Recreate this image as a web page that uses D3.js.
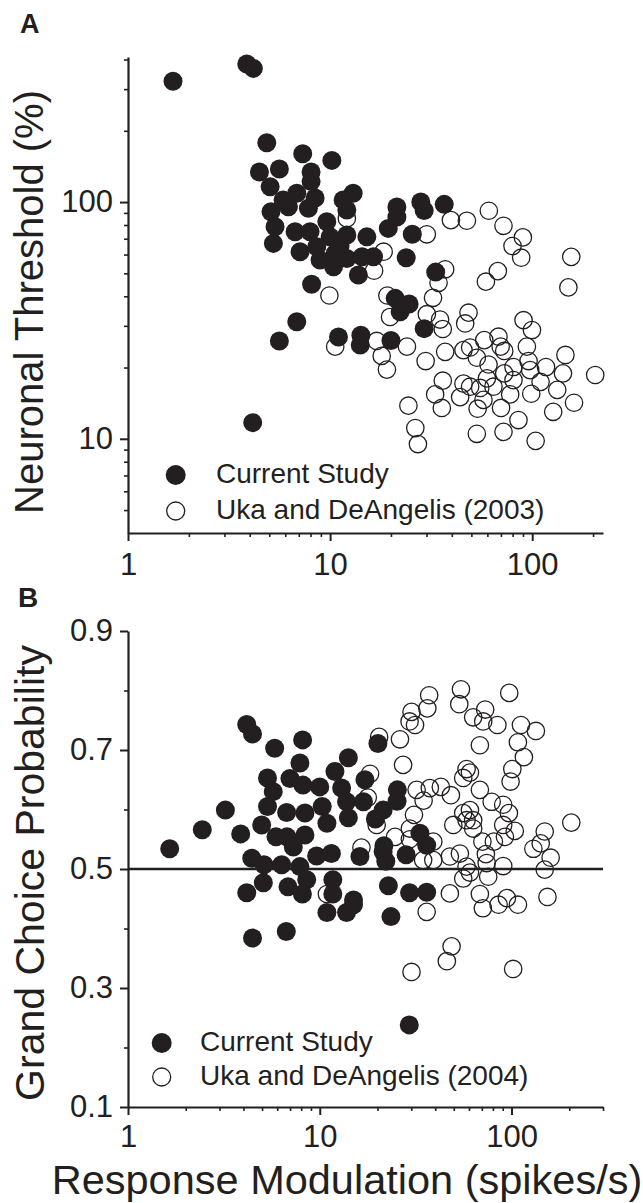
<!DOCTYPE html>
<html>
<head>
<meta charset="utf-8">
<script src="https://cdn.jsdelivr.net/npm/d3@7"></script>
<style>
  html, body { margin: 0; padding: 0; background: #fff; }
  svg { display: block; }
  text { font-family: "Liberation Sans", Arial, Helvetica, sans-serif; fill: #231f20; }
</style>
</head>
<body>
<svg id="chart" width="643" height="1203"></svg>
<script>
// ---------------- DATA ----------------
// Panel A: Neuronal threshold vs response modulation
const aCurX = [1.67,3.87,4.17,4.86,7.32,10.2,4.47,5.61,8.05,8.05,5.05,6.84,8.43,13.0,11.6,5.10,6.22,7.81,12.1,21.4,21.4,28.1,29.2,36.7,5.34,9.63,6.71,7.96,10.0,12.1,15.2,19.4,25.5,5.24,7.10,8.59,8.92,10.4,10.6,12.1,14.4,16.4,13.8,23.8,8.10,6.84,5.61,11.0,14.2,14.1,20.0,21.0,24.6,22.2,29.2,33.3,4.14,5.85,11.2];
const aCurY = [324,383,367,178,160,150,134,138,134,122,116,109,104,109,102,91,95.5,94.1,92.5,95.3,86.4,100,92.1,97.8,78.6,82.6,74.9,74.9,71.3,72.6,71.3,77.4,73.1,66.9,61.7,64.7,56.9,53.3,60.7,57.8,58.7,58.7,49.2,58.2,45.0,31.2,25.9,26.9,27.4,24.9,26.0,39.2,37.1,34.4,29.2,50.6,11.7,102,65.2];
const aUkaX = [39.6,47.5,61.0,72.1,89.9,79.9,88.2,156,151,67.6,59.0,30.1,18.4,16.5,37.1,34.4,9.92,19.2,32.3,19.8,30.1,35.0,48.4,46.6,36.1,90.6,99.7,10.6,17.0,24.0,18.0,19.1,29.7,37.1,49.3,57.9,69.8,72.7,53.2,60.8,72.7,80.8,94.1,95.9,117,146,142,205,110,133,161,127,85.5,98.9,77.8,64.3,55.3,53.7,70.1,45.7,36.1,33.1,35.7,24.4,26.4,27.2,53.2,72.1,104,59.7,49.3,80.8,97.7,68.1,45.7,57.4,44.0,12.1];
const aUkaY = [83.9,83.4,91.9,79.4,70.9,65.2,58.2,58.7,43.6,51.1,46.1,73.1,61.7,51.3,52.0,45.6,40.3,40.3,39.4,32.7,33.6,31.9,34.1,30.7,29.1,31.7,28.8,24.5,25.9,24.5,22.4,19.6,21.3,23.3,24.3,26.1,24.5,23.5,22.0,20.6,18.9,17.7,24.5,21.3,20.1,22.6,18.9,18.6,17.4,16.1,14.2,13.0,12.0,15.5,15.4,16.6,16.4,13.4,13.5,17.1,17.6,15.4,13.5,13.8,11.1,9.5,10.5,10.7,9.8,18.0,16.6,20.1,19.5,27.0,23.7,14.6,15.0,85.3];

// Panel B: Grand choice probability vs response modulation
const bCurX = [1.65,2.44,3.22,3.87,4.16,4.46,5.82,8.14,7.88,5.34,6.99,8.17,10.0,5.72,5.34,6.72,8.37,10.3,4.98,5.91,6.75,8.37,7.28,4.42,5.12,6.33,4.16,5.08,7.88,8.55,6.83,8.12,9.63,11.5,16.2,21.4,22.1,11.7,11.7,10.9,13.8,15.0,22.8,23.5,4.46,6.69,14.1,12.0,17.2,20.1,13.0,13.8,16.9,21.4,25.4,25.3,19.5,14.1,10.9,33.3,36.1,21.6,28.2,29.4,36.1,29.3,15.0];
const bCurY = [0.534,0.566,0.599,0.559,0.743,0.727,0.703,0.717,0.678,0.653,0.652,0.641,0.638,0.630,0.605,0.595,0.594,0.605,0.574,0.554,0.554,0.557,0.537,0.518,0.507,0.507,0.460,0.477,0.504,0.482,0.470,0.458,0.522,0.526,0.521,0.529,0.513,0.482,0.458,0.427,0.427,0.440,0.472,0.420,0.384,0.395,0.687,0.664,0.650,0.711,0.636,0.613,0.613,0.599,0.633,0.614,0.584,0.586,0.577,0.560,0.540,0.539,0.524,0.460,0.461,0.238,0.448];
const bUkaX = [37.2,36.4,30.1,29.4,31.4,26.2,20.4,27.2,54.5,53.4,97.3,63.1,72.9,71.2,84.4,112,134,108,116,68.4,101,98.9,58.3,60.7,56.0,32.0,37.5,42.8,48.3,34.8,68.4,78.8,90.5,96.9,31.0,49.7,56.0,60.7,58.3,63.1,63.1,90.5,104,92.4,80.9,70.5,73.5,205,149,142,130,160,149,29.5,39.1,34.6,39.1,47.7,53.8,58.3,60.7,56.0,75.6,90.5,74.2,47.7,68.4,70.9,85.6,94.6,108,154,36.1,48.7,46.0,30.1,102,18.3,17.8,19.8,16.5,24.7,29.5,10.9];
const bUkaY = [0.792,0.770,0.764,0.748,0.742,0.718,0.722,0.675,0.802,0.777,0.796,0.755,0.768,0.748,0.742,0.742,0.732,0.713,0.688,0.708,0.668,0.647,0.668,0.662,0.653,0.633,0.636,0.638,0.624,0.615,0.633,0.613,0.608,0.594,0.591,0.574,0.594,0.599,0.582,0.582,0.568,0.574,0.564,0.554,0.546,0.546,0.525,0.578,0.563,0.543,0.534,0.519,0.499,0.568,0.546,0.515,0.515,0.521,0.526,0.504,0.494,0.484,0.487,0.505,0.510,0.459,0.458,0.434,0.440,0.451,0.440,0.453,0.428,0.370,0.345,0.327,0.332,0.660,0.620,0.574,0.536,0.554,0.550,0.458];

// Ticks
const xMajor = [1, 10, 100];
const xMinorA = [2,3,4,5,6,7,8,9,20,30,40,50,60,70,80,90,200];
const xMinorB = [2,3,4,5,6,7,8,9,20,30,40,50,60,70,80,90,200,300];
const yMajorA = [10, 100];
const yMinorA = [5,6,7,8,9,20,30,40,50,60,70,80,90,200,300,400];
const yMajorB = [0.1, 0.3, 0.5, 0.7, 0.9];
const yMinorB = [0.2, 0.4, 0.6, 0.8];
const refLineB = 0.5;

const legendA = ["Current Study", "Uka and DeAngelis (2003)"];
const legendB = ["Current Study", "Uka and DeAngelis (2004)"];

// ---------------- DRAW ----------------
const ink = "#231f20";
const svg = d3.select("#chart");
svg.append("rect").attr("width", 643).attr("height", 1203).attr("fill", "#fff");

const xA = d3.scaleLog().domain([1, 224]).range([128, 603]);
const yA = d3.scaleLog().domain([4, 410]).range([533, 57]);
const xB = d3.scaleLog().domain([1, 300]).range([128, 603]);
const yB = d3.scaleLinear().domain([0.1, 0.9]).range([1107, 631]);

function styleAxis(g) {
  g.select(".domain").attr("stroke", ink).attr("stroke-width", 2.2);
  g.selectAll(".tick line").attr("stroke", ink).attr("stroke-width", 2);
  g.selectAll(".tick text").attr("font-size", 31).attr("fill", ink)
    .attr("font-family", '"Liberation Sans", Arial, sans-serif');
}

function drawAxes(x, y, xMinor, yMajor, yMinor, yFmt, xPad) {
  const xAxisY = y.range()[0];
  const yAxisX = x.range()[0];
  const gx = svg.append("g").attr("transform", `translate(0,${xAxisY})`)
    .call(d3.axisBottom(x).tickValues(xMajor).tickSize(8).tickSizeOuter(0).tickPadding(xPad).tickFormat(d3.format("d")));
  styleAxis(gx);
  const gxm = svg.append("g").attr("transform", `translate(0,${xAxisY})`)
    .call(d3.axisBottom(x).tickValues(xMinor).tickSize(4).tickSizeOuter(0).tickFormat(""));
  gxm.select(".domain").remove();
  gxm.selectAll(".tick line").attr("stroke", ink).attr("stroke-width", 1.6);

  const gy = svg.append("g").attr("transform", `translate(${yAxisX},0)`)
    .call(d3.axisLeft(y).tickValues(yMajor).tickSize(8).tickSizeOuter(0).tickPadding(7).tickFormat(yFmt));
  styleAxis(gy);
  const gym = svg.append("g").attr("transform", `translate(${yAxisX},0)`)
    .call(d3.axisLeft(y).tickValues(yMinor).tickSize(4).tickSizeOuter(0).tickFormat(""));
  gym.select(".domain").remove();
  gym.selectAll(".tick line").attr("stroke", ink).attr("stroke-width", 1.6);
}

function drawPoints(x, y, openX, openY, curX, curY) {
  const g = svg.append("g");
  g.selectAll("circle.open").data(openX.map((v, i) => [v, openY[i]])).join("circle")
    .attr("class", "open")
    .attr("cx", d => x(d[0])).attr("cy", d => y(d[1])).attr("r", 8.7)
    .attr("fill", "none").attr("stroke", ink).attr("stroke-width", 1.3);
  g.selectAll("circle.cur").data(curX.map((v, i) => [v, curY[i]])).join("circle")
    .attr("class", "cur")
    .attr("cx", d => x(d[0])).attr("cy", d => y(d[1])).attr("r", 9.5)
    .attr("fill", ink);
}

function drawLegend(mx, y1, y2, tx, dy, labels) {
  svg.append("circle").attr("cx", mx).attr("cy", y1).attr("r", 10).attr("fill", ink);
  svg.append("circle").attr("cx", mx).attr("cy", y2).attr("r", 9).attr("fill", "none")
    .attr("stroke", ink).attr("stroke-width", 1.3);
  svg.append("text").attr("x", tx).attr("y", y1 + dy).attr("font-size", 28).text(labels[0]);
  svg.append("text").attr("x", tx).attr("y", y2 + dy).attr("font-size", 28).text(labels[1]);
}

// Panel A
drawPoints(xA, yA, aUkaX, aUkaY, aCurX, aCurY);
drawAxes(xA, yA, xMinorA, yMajorA, yMinorA, d3.format("d"), 12);
drawLegend(175.7, 475, 511, 216, 8, legendA);
svg.append("text").attr("transform", "translate(43,302) rotate(-90)")
  .attr("text-anchor", "middle").attr("font-size", 40).text("Neuronal Threshold (%)");
svg.append("text").attr("x", 20).attr("y", 33).attr("font-size", 27).attr("font-weight", "bold").text("A");

// Panel B
svg.append("line")
  .attr("x1", xB.range()[0]).attr("x2", xB.range()[1])
  .attr("y1", yB(refLineB)).attr("y2", yB(refLineB))
  .attr("stroke", ink).attr("stroke-width", 2.5);
drawPoints(xB, yB, bUkaX, bUkaY, bCurX, bCurY);
drawAxes(xB, yB, xMinorB, yMajorB, yMinorB, d3.format(".1f"), 10);
drawLegend(161.7, 1043, 1077, 200, 7.5, legendB);
svg.append("text").attr("transform", "translate(44,873) rotate(-90)")
  .attr("text-anchor", "middle").attr("font-size", 41).text("Grand Choice Probability");
svg.append("text").attr("x", 18).attr("y", 607).attr("font-size", 28).attr("font-weight", "bold").text("B");

svg.append("text").attr("x", 347).attr("y", 1194).attr("text-anchor", "middle")
  .attr("font-size", 41.5).text("Response Modulation (spikes/s)");
</script>
</body>
</html>
